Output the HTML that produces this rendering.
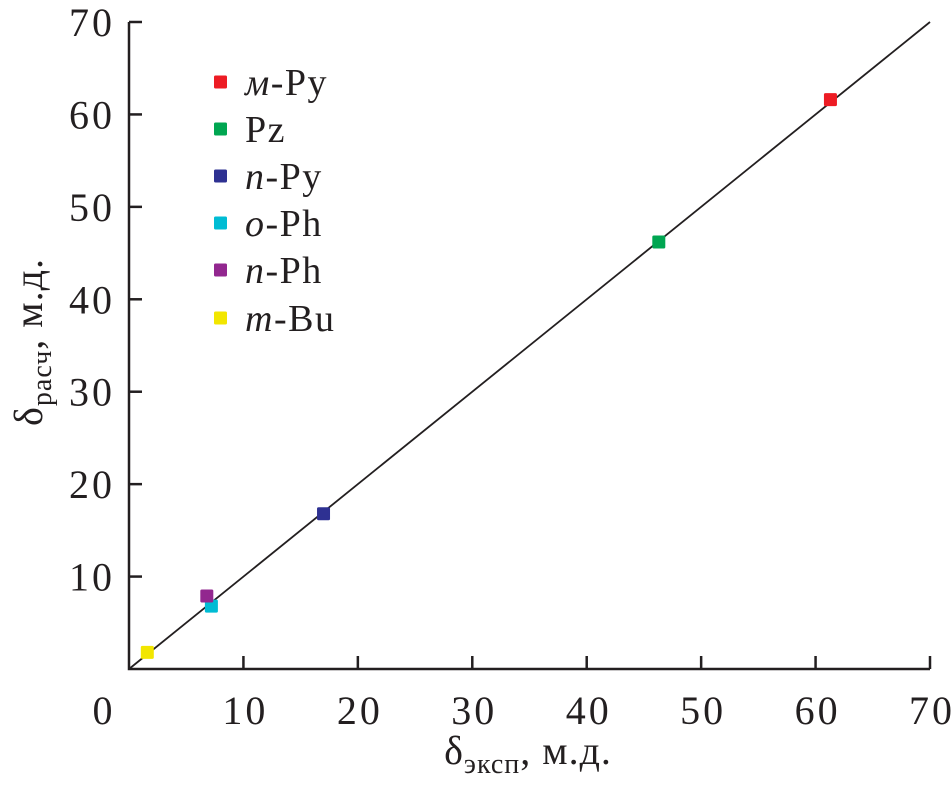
<!DOCTYPE html>
<html><head><meta charset="utf-8"><style>
body{margin:0;background:#fff}
svg{display:block}
text{font-family:"Liberation Serif","DejaVu Serif",serif;fill:#231f20}
</style></head><body>
<svg width="951" height="788" viewBox="0 0 951 788">
<g id="axes"></g>
<g id="marks"></g>
<g id="legend"></g>
<text x="528" y="764" font-size="40" letter-spacing="1" text-anchor="middle">δ<tspan font-size="28" dy="9">эксп</tspan><tspan dy="-9">, м.д.</tspan></text>
<text transform="translate(42,342) rotate(-90)" font-size="40" letter-spacing="1" text-anchor="middle">δ<tspan font-size="28" dy="9">расч</tspan><tspan dy="-9">, м.д.</tspan></text>
</svg>
<script>
const names=["м-Py","Pz","n-Py","o-Ph","n-Ph","m-Bu"];
const italicPrefix=["м","","n","o","n","m"];
const restText=["-Py","Pz","-Py","-Ph","-Ph","-Bu"];
const colors=["#ed1c24","#00a651","#2e3192","#00bcd4","#92278f","#f2e600"];
const xVals=[61.3,46.3,17.0,7.2,6.8,1.6];
const yVals=[61.6,46.2,16.8,6.8,7.9,1.8];
const ticks=[0,10,20,30,40,50,60,70];
const NS="http://www.w3.org/2000/svg";
const X0=129,X1=930,Y0=669,Y1=22;
const sx=v=>X0+v*(X1-X0)/70, sy=v=>Y0-v*(Y0-Y1)/70;
function mk(t,a,p){const e=document.createElementNS(NS,t);for(const k in a)e.setAttribute(k,a[k]);p.appendChild(e);return e;}
const ax=document.getElementById('axes');
let e=mk('path',{d:`M${X0},${sy(70)}V${Y0}H${X1}`,fill:'none',stroke:'#231f20','stroke-width':2.5},ax);


ticks.forEach(t=>{
 if(t>0){
  let a=mk('line',{x1:sx(t),x2:sx(t),y1:Y0,y2:Y0-13,stroke:'#231f20','stroke-width':2.5},ax);
  
  
  let b=mk('line',{x1:X0,x2:X0+13,y1:sy(t),y2:sy(t),stroke:'#231f20','stroke-width':2.5},ax);
  
  
  let yl=mk('text',{x:X0-14,y:sy(t)+14,'font-size':40,'letter-spacing':3,'text-anchor':'end'},ax);yl.textContent=t;
  
  
 }
 let xl=mk('text',{x:t===0?sx(t)-25:sx(t)+2,y:724,'font-size':40,'letter-spacing':3,'text-anchor':'middle'},ax);xl.textContent=t;
 
 
});
const m=document.getElementById('marks');
let ln=mk('line',{x1:sx(0),y1:sy(0),x2:sx(70),y2:sy(70),stroke:'#231f20','stroke-width':1.8},m);


xVals.forEach((v,i)=>{
 let r=mk('rect',{x:sx(v)-6.5,y:sy(yVals[i])-6.5,width:13,height:13,rx:1.5,fill:colors[i]},m);
 
 
});
const lg=document.getElementById('legend');
const rowsY=[82,129,176,223,270,318];
names.forEach((n,i)=>{
 let g=mk('g',{},lg);
 
 
 mk('rect',{x:214,y:rowsY[i]-6.5,width:13,height:13,rx:1.5,fill:colors[i]},g);
 let t=mk('text',{x:245,y:rowsY[i]+13,'font-size':38,'letter-spacing':1.5},g);
 if(italicPrefix[i]){let s=mk('tspan',{'font-style':'italic'},t);s.textContent=italicPrefix[i];}
 let s2=mk('tspan',{},t);s2.textContent=restText[i];
});
</script>
</body></html>
